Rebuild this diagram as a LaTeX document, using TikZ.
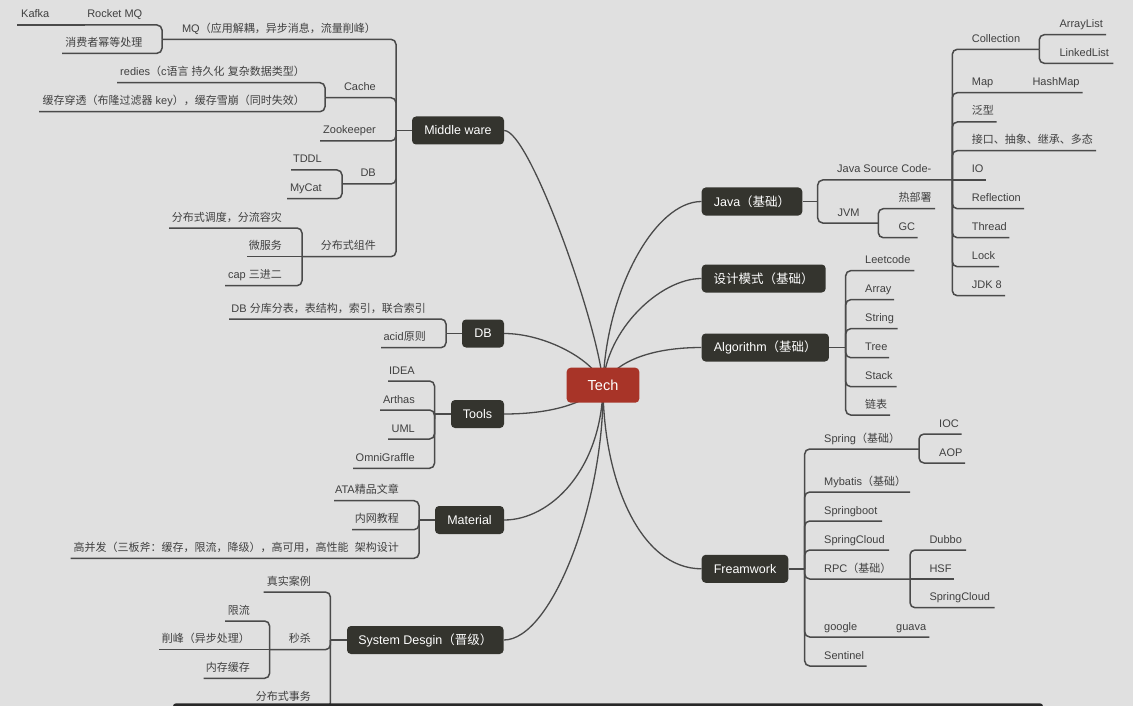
\documentclass[tikz,border=0pt]{standalone}
\usepackage{fontspec}
\setmainfont{Liberation Sans}
\newfontfamily\cjkfont{Noto Sans CJK SC}
\XeTeXinterchartokenstate=1
\newXeTeXintercharclass\cjkcls
\makeatletter
\count@="3000
\loop \XeTeXcharclass\count@=\cjkcls \ifnum\count@<"303F \advance\count@ by 1 \repeat
\count@="4E00
\loop \XeTeXcharclass\count@=\cjkcls \ifnum\count@<"9FFF \advance\count@ by 1 \repeat
\count@="FF00
\loop \XeTeXcharclass\count@=\cjkcls \ifnum\count@<"FFEF \advance\count@ by 1 \repeat
\makeatother
\XeTeXinterchartoks 0 \cjkcls = {\begingroup\cjkfont}
\XeTeXinterchartoks 4095 \cjkcls = {\begingroup\cjkfont}
\XeTeXinterchartoks \cjkcls 0 = {\endgroup}
\XeTeXinterchartoks \cjkcls 4095 = {\endgroup}
\definecolor{bgc}{RGB}{224,224,224}
\definecolor{nodec}{RGB}{52,52,46}
\definecolor{techc}{RGB}{168,52,40}
\definecolor{linec}{RGB}{74,74,74}
\definecolor{textc}{RGB}{64,64,64}
\definecolor{barc}{RGB}{40,40,40}
\tikzset{
  ln/.style={line width=1.5pt, draw=linec, rounded corners=5pt},
  cv/.style={line width=1.3pt, draw=linec},
  lbl/.style={inner sep=0pt, text=textc, font=\fontsize{11}{13}\selectfont},
  lw/.style={lbl, anchor=base west},
  le/.style={lbl, anchor=base east},
  mainbox/.style={fill=nodec, rounded corners=4pt, text=white, inner sep=0pt,
    minimum height=28pt, font=\fontsize{12.5}{15}\selectfont},
  techbox/.style={fill=techc, rounded corners=4pt, text=white, inner sep=0pt,
    minimum width=72.6pt, minimum height=35pt, font=\fontsize{14.5}{17}\selectfont}
}
\begin{document}
\begin{tikzpicture}[x=1pt,y=-1pt]
\path[use as bounding box, fill=bgc] (0,0) rectangle (1133,706);
% main nodes
\node[mainbox, minimum width=92pt] (mw) at (458,130.5) {Middle ware};
\node[mainbox, minimum width=42pt] (db) at (483,333.5) {DB};
\node[mainbox, minimum width=53pt] (tools) at (477.5,414) {Tools};
\node[mainbox, minimum width=69pt] (mat) at (469.5,520) {Material};
\node[mainbox, minimum width=156.6pt] (sd) at (425.3,640) {System Desgin（晋级）};
\node[mainbox, minimum width=100.6pt] (java) at (752,201.5) {Java（基础）};
\node[mainbox, minimum width=124pt] (dp) at (763.7,278.5) {设计模式（基础）};
\node[mainbox, minimum width=127.3pt] (alg) at (765.3,347.5) {Algorithm（基础）};
\node[mainbox, minimum width=86.6pt] (fw) at (745,568.8) {Freamwork};
\coordinate (tc) at (603,385.2);
% curves
\draw[cv] (mw.east) .. controls (530,130.5) and (600,330) .. (tc);
\draw[cv] (java.west) .. controls (655,201.5) and (606,290) .. (tc);
\draw[cv] (dp.west) .. controls (660,278.5) and (606,330) .. (tc);
\draw[cv] (alg.west) .. controls (650,347.5) and (615,362) .. (tc);
\draw[cv] (db.east) .. controls (545,333.5) and (595,360) .. (tc);
\draw[cv] (tools.east) .. controls (550,414) and (585,404) .. (tc);
\draw[cv] (mat.east) .. controls (550,520) and (602,470) .. (tc);
\draw[cv] (sd.east) .. controls (552,640) and (605,500) .. (tc);
\draw[cv] (fw.west) .. controls (640,568.8) and (603,480) .. (tc);
\node[techbox] (tech) at (tc) {Tech};

% ===== Middle ware =====
\draw[ln] (mw.west) -- (396,130.5);
\draw[ln] (162,39.3) -- (396,39.3) -- (396,130.5);
\node[le] (mq) at (376,32.3) {MQ（应用解耦，异步消息，流量削峰）};
\draw[ln] (85,25) -- (162,25) -- (162,39.3);
\node[le] (rmq) at (142.5,18) {Rocket MQ};
\draw[ln] (17,25) -- (85,25);
\node[lw] (kafka) at (21,18) {Kafka};
\draw[ln] (62,53.3) -- (162,53.3) -- (162,39.3);
\node[le] (mqa) at (142.5,46.3) {消费者幂等处理};
\draw[ln] (325,97.7) -- (396,97.7) -- (396,130.5);
\node[le] (cache) at (376,90.7) {Cache};
\draw[ln] (117,82.7) -- (325,82.7) -- (325,97.7);
\node[le] (redis) at (305,75.7) {redies（c语言 持久化 复杂数据类型）};
\draw[ln] (39,111.7) -- (325,111.7) -- (325,97.7);
\node[le] (ctp) at (305,104.7) {缓存穿透（布隆过滤器 key），缓存雪崩（同时失效）};
\draw[ln] (320,141) -- (396,141) -- (396,130.5);
\node[le] (zk) at (376,134) {Zookeeper};
\draw[ln] (342,184) -- (396,184) -- (396,130.5);
\node[le] (mdb) at (376,177) {DB};
\draw[ln] (291,170) -- (342,170) -- (342,184);
\node[le] (tddl) at (322,163) {TDDL};
\draw[ln] (287,198.7) -- (342,198.7) -- (342,184);
\node[le] (mycat) at (322,191.7) {MyCat};
\draw[ln] (302,256.7) -- (396,256.7) -- (396,130.5);
\node[le] (fbs) at (376,249.7) {分布式组件};
\draw[ln] (169,228) -- (302,228) -- (302,256.7);
\node[le] (fbs1) at (282,221) {分布式调度，分流容灾};
\draw[ln] (247,256.7) -- (302,256.7);
\node[le] (fbs2) at (282,249.7) {微服务};
\draw[ln] (225,285.7) -- (302,285.7) -- (302,256.7);
\node[le] (fbs3) at (282,278.7) {cap 三进二};

% ===== DB =====
\draw[ln] (db.west) -- (446,333.5);
\draw[ln] (229,319) -- (446,319) -- (446,333.5);
\node[le] (db1) at (426,312) {DB 分库分表，表结构，索引，联合索引};
\draw[ln] (381,347.7) -- (446,347.7) -- (446,333.5);
\node[le] (db2) at (426,340.7) {acid原则};

% ===== Tools =====
\draw[ln] (tools.west) -- (434.5,414);
\draw[ln] (388,381) -- (434.5,381) -- (434.5,414);
\node[le] (t1) at (415,374) {IDEA};
\draw[ln] (380,410) -- (434.5,410) -- (434.5,414);
\node[le] (t2) at (415,403) {Arthas};
\draw[ln] (388,439) -- (434.5,439) -- (434.5,414);
\node[le] (t3) at (415,432) {UML};
\draw[ln] (353,468.3) -- (434.5,468.3) -- (434.5,414);
\node[le] (t4) at (415,461.3) {OmniGraffle};

% ===== Material =====
\draw[ln] (mat.west) -- (419,520);
\draw[ln] (334,500.7) -- (419,500.7) -- (419,520);
\node[le] (m1) at (399,493.7) {ATA精品文章};
\draw[ln] (352,529.7) -- (419,529.7) -- (419,520);
\node[le] (m2) at (399,522.7) {内网教程};
\draw[ln] (70.5,558.3) -- (419,558.3) -- (419,520);
\node[le] (m3) at (399,551.3) {高并发（三板斧：缓存，限流，降级），高可用，高性能\ \ 架构设计};

% ===== System Desgin =====
\draw[ln] (sd.west) -- (330.4,640);
\draw[ln] (263.6,592) -- (330.4,592) -- (330.4,640);
\node[le] (s1) at (311,585) {真实案例};
\draw[ln] (269.6,649.7) -- (330.4,649.7) -- (330.4,640);
\node[le] (s2) at (311,642.7) {秒杀};
\draw[ln] (225,621) -- (269.6,621) -- (269.6,649.7);
\node[le] (s21) at (250,614) {限流};
\draw[ln] (159,649.7) -- (269.6,649.7);
\node[le] (s22) at (250,642.7) {削峰（异步处理）};
\draw[ln] (203.6,678.3) -- (269.6,678.3) -- (269.6,649.7);
\node[le] (s23) at (250,671.3) {内存缓存};
\draw[ln] (240,708) -- (330.4,708) -- (330.4,640);
\node[le] (s3) at (311,700.5) {分布式事务};

% ===== Java =====
\draw[ln] (java.east) -- (817.7,201.5);
\draw[ln] (952.3,180) -- (817.7,180) -- (817.7,201.5);
\node[lw] (jsc) at (837,173) {Java Source Code-};
\draw[ln] (1039.3,49.3) -- (952.3,49.3) -- (952.3,180);
\node[lw] (coll) at (971.7,42.3) {Collection};
\draw[ln] (1106,34.7) -- (1039.3,34.7) -- (1039.3,49.3);
\node[lw] (al) at (1059.3,27.7) {ArrayList};
\draw[ln] (1113.3,63.3) -- (1039.3,63.3) -- (1039.3,49.3);
\node[lw] (ll) at (1059.3,56.3) {LinkedList};
\draw[ln] (1082.7,92.7) -- (952.3,92.7) -- (952.3,180);
\node[lw] (map) at (971.7,85.7) {Map};
\node[lw] (hmap) at (1032.3,85.7) {HashMap};
\draw[ln] (996.7,122) -- (952.3,122) -- (952.3,180);
\node[lw] (fx) at (971.7,115) {泛型};
\draw[ln] (1096,150.7) -- (952.3,150.7) -- (952.3,180);
\node[lw] (oop) at (971.7,143.7) {接口、抽象、继承、多态};
\draw[ln] (985.7,180) -- (952.3,180);
\node[lw] (io) at (971.7,173) {IO};
\draw[ln] (1024,208.7) -- (952.3,208.7) -- (952.3,180);
\node[lw] (refl) at (971.7,201.7) {Reflection};
\draw[ln] (1009.3,237.7) -- (952.3,237.7) -- (952.3,180);
\node[lw] (thr) at (971.7,230.7) {Thread};
\draw[ln] (999,266.7) -- (952.3,266.7) -- (952.3,180);
\node[lw] (lock) at (971.7,259.7) {Lock};
\draw[ln] (1005,295.7) -- (952.3,295.7) -- (952.3,180);
\node[lw] (jdk) at (971.7,288.7) {JDK 8};
\draw[ln] (878.3,223) -- (817.7,223) -- (817.7,201.5);
\node[lw] (jvm) at (837.3,216) {JVM};
\draw[ln] (935,208.7) -- (878.3,208.7) -- (878.3,223);
\node[lw] (hot) at (898.3,201.7) {热部署};
\draw[ln] (917.7,237.7) -- (878.3,237.7) -- (878.3,223);
\node[lw] (gc) at (898.3,230.7) {GC};

% ===== Algorithm =====
\draw[ln] (alg.east) -- (845.7,347.5);
\draw[ln] (914.3,270.7) -- (845.7,270.7) -- (845.7,347.5);
\node[lw] (a1) at (865,263.7) {Leetcode};
\draw[ln] (894,299.7) -- (845.7,299.7) -- (845.7,347.5);
\node[lw] (a2) at (865,292.7) {Array};
\draw[ln] (897.7,328.7) -- (845.7,328.7) -- (845.7,347.5);
\node[lw] (a3) at (865,321.7) {String};
\draw[ln] (889,357.7) -- (845.7,357.7) -- (845.7,347.5);
\node[lw] (a4) at (865,350.7) {Tree};
\draw[ln] (896.7,386.7) -- (845.7,386.7) -- (845.7,347.5);
\node[lw] (a5) at (865,379.7) {Stack};
\draw[ln] (890,415) -- (845.7,415) -- (845.7,347.5);
\node[lw] (a6) at (865,408) {链表};

% ===== Freamwork =====
\draw[ln] (fw.east) -- (804.7,568.8);
\draw[ln] (919,449) -- (804.7,449) -- (804.7,568.8);
\node[lw] (f1) at (824,442) {Spring（基础）};
\draw[ln] (961.7,434) -- (919,434) -- (919,449);
\node[lw] (ioc) at (939,427) {IOC};
\draw[ln] (965,463) -- (919,463) -- (919,449);
\node[lw] (aop) at (939,456) {AOP};
\draw[ln] (910,492) -- (804.7,492) -- (804.7,568.8);
\node[lw] (f2) at (824,485) {Mybatis（基础）};
\draw[ln] (882,521) -- (804.7,521) -- (804.7,568.8);
\node[lw] (f3) at (824,514) {Springboot};
\draw[ln] (889,550) -- (804.7,550) -- (804.7,568.8);
\node[lw] (f4) at (824,543) {SpringCloud};
\draw[ln] (910,579) -- (804.7,579) -- (804.7,568.8);
\node[lw] (f5) at (824,572) {RPC（基础）};
\draw[ln] (966,550) -- (910,550) -- (910,579);
\node[lw] (dubbo) at (929.3,543) {Dubbo};
\draw[ln] (954,579) -- (910,579);
\node[lw] (hsf) at (929.3,572) {HSF};
\draw[ln] (994.7,607.7) -- (910,607.7) -- (910,579);
\node[lw] (sc2) at (929.3,600.7) {SpringCloud};
\draw[ln] (929.3,637) -- (804.7,637) -- (804.7,568.8);
\node[lw] (f6) at (824,630) {google};
\node[lw] (guava) at (896,630) {guava};
\draw[ln] (866.7,666) -- (804.7,666) -- (804.7,568.8);
\node[lw] (f7) at (824,659) {Sentinel};

% bottom bar
\fill[barc, rounded corners=3pt] (173,703.3) rectangle (1043,715);
\end{tikzpicture}
\end{document}
